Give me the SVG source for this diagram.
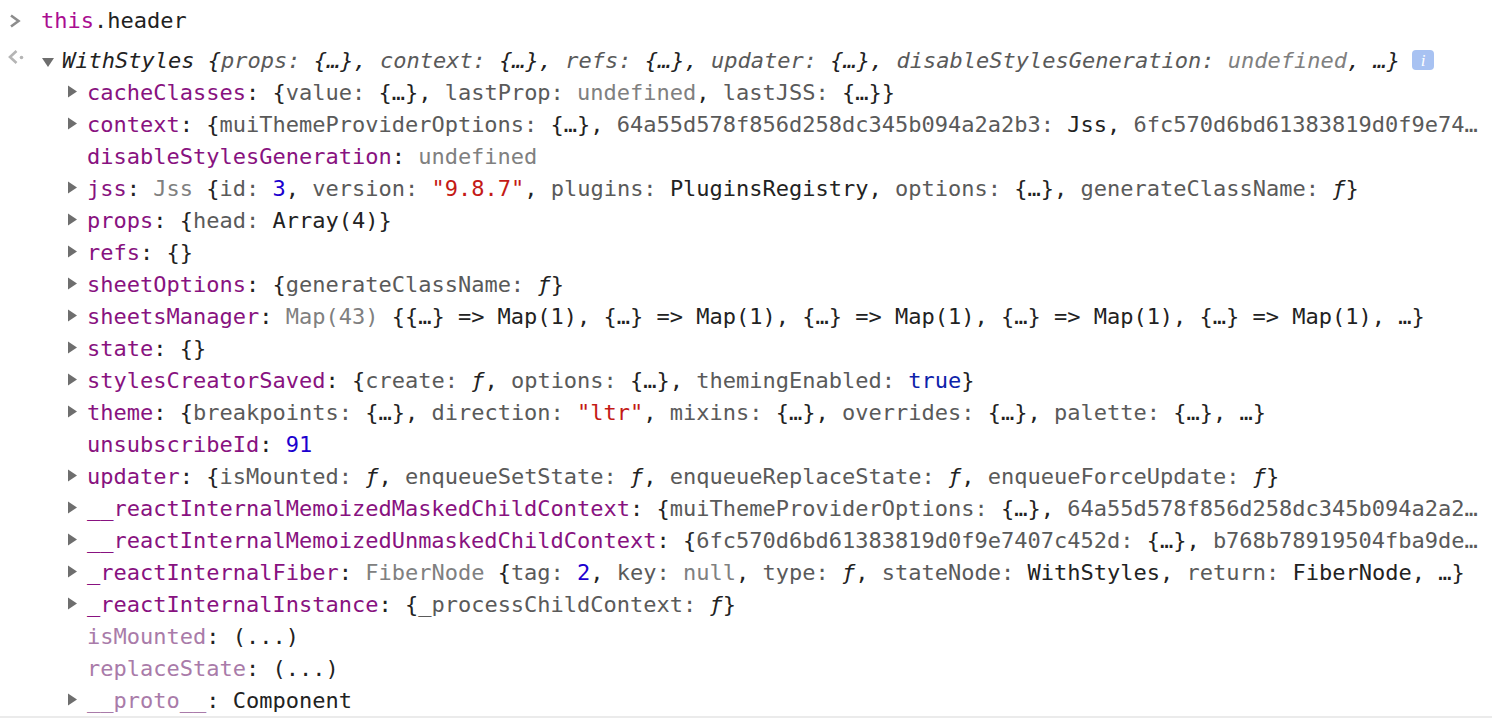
<svg xmlns="http://www.w3.org/2000/svg" width="1492" height="728" viewBox="0 0 1492 728">
<style>
text{font-family:"DejaVu Sans Mono","Liberation Mono",monospace;font-size:22px;fill:#222;white-space:pre}
.n{fill:#881280}
.ne{fill:#a97ba9}
.k{fill:#5a5a5a}
.u{fill:#808080}
.num{fill:#1c00cf}
.b{fill:#0d22aa}
.s{fill:#c41a16}
.f{font-style:italic}
.kw{fill:#aa0d91}
.it{font-style:italic}
.tri{fill:#6e6e6e}
</style>
<defs>
<path id="rt" d="M68,-6 L68,6 L77,0 Z"/>
</defs>
<rect x="0" y="0" width="1492" height="728" fill="#fff"/>
<g id="input">
<path d="M11,15.5 L18.5,21 L11,26.5" fill="none" stroke="#8c8c8c" stroke-width="2.6"/>
<text x="41" y="28" xml:space="preserve"><tspan class="kw">this</tspan>.header</text>
</g>
<g id="result-header">
<path d="M16.5,51 L10,57 L16.5,63" fill="none" stroke="#b5b5b5" stroke-width="2.6"/>
<circle cx="21.5" cy="57.5" r="1.8" fill="#b5b5b5"/>
<path class="tri" d="M42,58 L54,58 L48,67 Z"/>
<text x="62" y="68" class="it" xml:space="preserve">WithStyles {<tspan class="k">props: </tspan>{…}, <tspan class="k">context: </tspan>{…}, <tspan class="k">refs: </tspan>{…}, <tspan class="k">updater: </tspan>{…}, <tspan class="k">disableStylesGeneration: </tspan><tspan class="u">undefined</tspan>, …}</text>
<rect x="1412" y="50" width="22" height="20" rx="4" fill="#a8c2f2"/>
<text x="1423" y="66" text-anchor="middle" style="font-family:'Liberation Serif',serif;font-style:italic;font-size:17px;fill:#fff">i</text>
</g>
<g id="rows">
<g id="cacheClasses"><use href="#rt" class="tri" y="91.5"/><text x="87" y="100" xml:space="preserve"><tspan class="n">cacheClasses</tspan>: {<tspan class="k">value: </tspan>{…}, <tspan class="k">lastProp: </tspan><tspan class="u">undefined</tspan>, <tspan class="k">lastJSS: </tspan>{…}}</text></g>
<g id="context"><use href="#rt" class="tri" y="123.5"/><text x="87" y="132" xml:space="preserve"><tspan class="n">context</tspan>: {<tspan class="k">muiThemeProviderOptions: </tspan>{…}, <tspan class="k">64a55d578f856d258dc345b094a2a2b3: </tspan>Jss, <tspan class="k">6fc570d6bd61383819d0f9e74…</tspan></text></g>
<g id="disableStylesGeneration"><text x="87" y="164" xml:space="preserve"><tspan class="n">disableStylesGeneration</tspan>: <tspan class="u">undefined</tspan></text></g>
<g id="jss"><use href="#rt" class="tri" y="187.5"/><text x="87" y="196" xml:space="preserve"><tspan class="n">jss</tspan>: <tspan class="u">Jss </tspan>{<tspan class="k">id: </tspan><tspan class="num">3</tspan>, <tspan class="k">version: </tspan><tspan class="s">"9.8.7"</tspan>, <tspan class="k">plugins: </tspan>PluginsRegistry, <tspan class="k">options: </tspan>{…}, <tspan class="k">generateClassName: </tspan><tspan class="f">ƒ</tspan>}</text></g>
<g id="props"><use href="#rt" class="tri" y="219.5"/><text x="87" y="228" xml:space="preserve"><tspan class="n">props</tspan>: {<tspan class="k">head: </tspan>Array(4)}</text></g>
<g id="refs"><use href="#rt" class="tri" y="251.5"/><text x="87" y="260" xml:space="preserve"><tspan class="n">refs</tspan>: {}</text></g>
<g id="sheetOptions"><use href="#rt" class="tri" y="283.5"/><text x="87" y="292" xml:space="preserve"><tspan class="n">sheetOptions</tspan>: {<tspan class="k">generateClassName: </tspan><tspan class="f">ƒ</tspan>}</text></g>
<g id="sheetsManager"><use href="#rt" class="tri" y="315.5"/><text x="87" y="324" xml:space="preserve"><tspan class="n">sheetsManager</tspan>: <tspan class="u">Map(43) </tspan>{{…} =&gt; Map(1), {…} =&gt; Map(1), {…} =&gt; Map(1), {…} =&gt; Map(1), {…} =&gt; Map(1), …}</text></g>
<g id="state"><use href="#rt" class="tri" y="347.5"/><text x="87" y="356" xml:space="preserve"><tspan class="n">state</tspan>: {}</text></g>
<g id="stylesCreatorSaved"><use href="#rt" class="tri" y="379.5"/><text x="87" y="388" xml:space="preserve"><tspan class="n">stylesCreatorSaved</tspan>: {<tspan class="k">create: </tspan><tspan class="f">ƒ</tspan>, <tspan class="k">options: </tspan>{…}, <tspan class="k">themingEnabled: </tspan><tspan class="b">true</tspan>}</text></g>
<g id="theme"><use href="#rt" class="tri" y="411.5"/><text x="87" y="420" xml:space="preserve"><tspan class="n">theme</tspan>: {<tspan class="k">breakpoints: </tspan>{…}, <tspan class="k">direction: </tspan><tspan class="s">"ltr"</tspan>, <tspan class="k">mixins: </tspan>{…}, <tspan class="k">overrides: </tspan>{…}, <tspan class="k">palette: </tspan>{…}, …}</text></g>
<g id="unsubscribeId"><text x="87" y="452" xml:space="preserve"><tspan class="n">unsubscribeId</tspan>: <tspan class="num">91</tspan></text></g>
<g id="updater"><use href="#rt" class="tri" y="475.5"/><text x="87" y="484" xml:space="preserve"><tspan class="n">updater</tspan>: {<tspan class="k">isMounted: </tspan><tspan class="f">ƒ</tspan>, <tspan class="k">enqueueSetState: </tspan><tspan class="f">ƒ</tspan>, <tspan class="k">enqueueReplaceState: </tspan><tspan class="f">ƒ</tspan>, <tspan class="k">enqueueForceUpdate: </tspan><tspan class="f">ƒ</tspan>}</text></g>
<g id="maskedChildContext"><use href="#rt" class="tri" y="507.5"/><text x="87" y="516" xml:space="preserve"><tspan class="n">__reactInternalMemoizedMaskedChildContext</tspan>: {<tspan class="k">muiThemeProviderOptions: </tspan>{…}, <tspan class="k">64a55d578f856d258dc345b094a2a2…</tspan></text></g>
<g id="unmaskedChildContext"><use href="#rt" class="tri" y="539.5"/><text x="87" y="548" xml:space="preserve"><tspan class="n">__reactInternalMemoizedUnmaskedChildContext</tspan>: {<tspan class="k">6fc570d6bd61383819d0f9e7407c452d: </tspan>{…}, <tspan class="k">b768b78919504fba9de…</tspan></text></g>
<g id="reactInternalFiber"><use href="#rt" class="tri" y="571.5"/><text x="87" y="580" xml:space="preserve"><tspan class="n">_reactInternalFiber</tspan>: <tspan class="u">FiberNode </tspan>{<tspan class="k">tag: </tspan><tspan class="num">2</tspan>, <tspan class="k">key: </tspan><tspan class="u">null</tspan>, <tspan class="k">type: </tspan><tspan class="f">ƒ</tspan>, <tspan class="k">stateNode: </tspan>WithStyles, <tspan class="k">return: </tspan>FiberNode, …}</text></g>
<g id="reactInternalInstance"><use href="#rt" class="tri" y="603.5"/><text x="87" y="612" xml:space="preserve"><tspan class="n">_reactInternalInstance</tspan>: {<tspan class="k">_processChildContext: </tspan><tspan class="f">ƒ</tspan>}</text></g>
<g id="isMounted"><text x="87" y="644" xml:space="preserve"><tspan class="ne">isMounted</tspan>: (...)</text></g>
<g id="replaceState"><text x="87" y="676" xml:space="preserve"><tspan class="ne">replaceState</tspan>: (...)</text></g>
<g id="proto"><use href="#rt" class="tri" y="699.5"/><text x="87" y="708" xml:space="preserve"><tspan class="ne">__proto__</tspan>: Component</text></g>
</g>
<g id="connectors"></g>
<rect x="0" y="716" width="1492" height="2" fill="#ebebeb"/>
</svg>
